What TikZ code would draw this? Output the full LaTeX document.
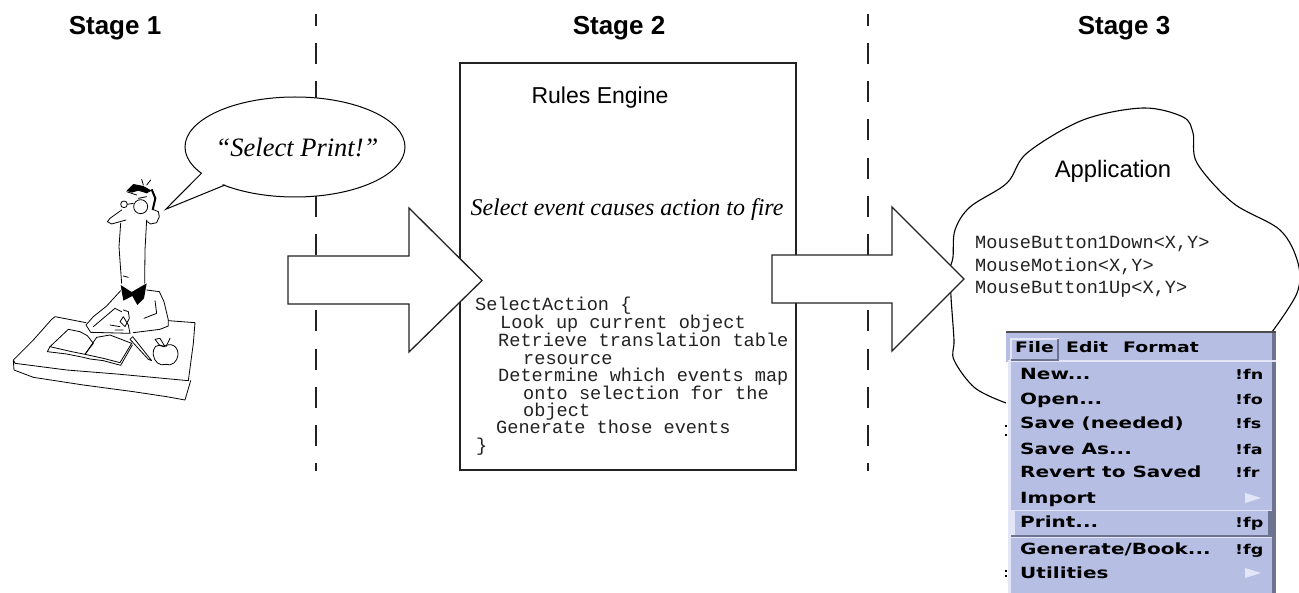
\documentclass[tikz,border=0pt]{standalone}
\usepackage{fontspec}
\usetikzlibrary{shapes.geometric}
\setmainfont{Liberation Sans}
\newfontfamily\serifit{Liberation Serif}
\newfontfamily\monof{Liberation Mono}
\newfontfamily\menuf[FakeStretch=1.3]{DejaVu Sans}
\definecolor{ink}{HTML}{222222}
\definecolor{menubg}{HTML}{B6BFE3}
\definecolor{menult}{HTML}{E2E6F7}
\definecolor{menudk}{HTML}{6E7391}
\tikzset{
 stagelabel/.style={font=\fontsize{26}{26}\selectfont\bfseries,text=black,inner sep=0,anchor=base},
 sanslabel/.style={font=\fontsize{23}{23}\selectfont,text=black,inner sep=0,anchor=base},
 seriflabel/.style={font=\serifit\itshape\fontsize{24}{24}\selectfont,text=black,inner sep=0,anchor=base},
 code/.style={font=\monof\fontsize{18.6}{18.6}\selectfont,text=ink,inner sep=0,anchor=base west},
 menuitem/.style={font=\menuf\bfseries\fontsize{15.4}{15.4}\selectfont,text=black,inner sep=0,anchor=base west},
 menubar/.style={font=\menuf\bfseries\fontsize{14.5}{14.5}\selectfont,text=black,inner sep=0,anchor=base west},
 menukey/.style={font=\menuf\bfseries\fontsize{13.5}{13.5}\selectfont,text=black,inner sep=0,anchor=base west},
 divider/.style={draw=ink,line width=1.5,dash pattern=on 21 off 17.2,dash phase=9.2},
 outlined/.style={draw=ink,line width=1.5},
 blockarrow/.style={draw=ink,line width=1.3,fill=white,line join=miter},
 sketch/.style={draw=black,line width=0.8,line join=round,line cap=round},
}
\newcommand{\menurow}[4]{%
  \node[menuitem] (it#1) at (1020,#4) {#2};
  \node[menukey] (sc#1) at (1235,#4) {#3};
}
\begin{document}
\begin{tikzpicture}[x=1pt,y=-1pt]
\useasboundingbox (0,0) rectangle (1299,593);
\node[stagelabel] (s1) at (115,35) {Stage 1};
\node[stagelabel] (s2) at (619,35) {Stage 2};
\node[stagelabel] (s3) at (1124,35) {Stage 3};
\coordinate (d1a) at (316,14); \coordinate (d1b) at (316,471);
\coordinate (d2a) at (868,14); \coordinate (d2b) at (868,471);
\draw[divider] (d1a) -- (d1b);
\draw[divider] (d2a) -- (d2b);
% bubble
\node[ellipse,draw=black,line width=1,fill=white,minimum width=220,minimum height=100,inner sep=0] (bubble) at (295,147) {};
\coordinate (t1) at (201.7,173); \coordinate (t2) at (165.7,209.3); \coordinate (t3) at (225,185);
\fill[white] (203,171) -- (t2) -- (226,183) -- cycle;
\draw[black,line width=1,line join=miter] (t1) -- (t2) -- (t3);
\node[seriflabel,font=\serifit\itshape\fontsize{26.5}{26.5}\selectfont] (say) at (297,156.5) {“Select Print!”};
% rules engine
\draw[outlined,fill=white] (460,63) rectangle (796,470);
\node[sanslabel] (re) at (600,104) {Rules Engine};
\node[seriflabel] (sel) at (627,216) {Select event causes action to fire};
\node[code] (c1) at (475,311) {SelectAction \{};
\node[code] (c2) at (500,329) {Look up current object};
\node[code] (c3) at (498,347) {Retrieve translation table};
\node[code] (c4) at (523,364.5) {resource};
\node[code] (c5) at (498,382) {Determine which events map};
\node[code] (c6) at (523,399.5) {onto selection for the};
\node[code] (c7) at (523,417) {object};
\node[code] (c8) at (496,434) {Generate those events};
\node[code] (c9) at (476,452) {\}};
% cloud
\draw[black,line width=1.1] plot[smooth,tension=0.55] coordinates {(1006,403) (975,388) (954,360) (954,340) (951,297) (950,270) (953,257) (955,230) (970,207) (1007,183) (1027,153) (1083,120) (1143,108) (1183,117) (1193,133) (1197,163) (1233,203) (1280,230) (1298,263) (1297,293) (1272,332)};
\node[sanslabel,font=\fontsize{23.8}{23.8}\selectfont] (app) at (1113,178) {Application};
\node[code] (m1) at (975,249) {MouseButton1Down<X,Y>};
\node[code] (m2) at (975,272) {MouseMotion<X,Y>};
\node[code] (m3) at (975,294) {MouseButton1Up<X,Y>};
% arrows
\draw[blockarrow] (288,256) -- (409,256) -- (409,208) -- (482,280.5) -- (409,352) -- (409,304) -- (288,304) -- cycle;
\draw[blockarrow] (772,255) -- (892,255) -- (892,207) -- (964,279) -- (892,351) -- (892,303) -- (772,303) -- cycle;
% menu
\fill[white] (1006,362) rectangle (1008,593);
\fill[menubg] (1006,332) rectangle (1276,362);
\fill[menubg] (1008,362) rectangle (1276,593);
\fill[menudk] (1272,333) rectangle (1276,593);
\fill[black!70] (1006,331) rectangle (1276,333);
\fill[menult] (1008,360.5) rectangle (1276,362.5);
\fill[menult] (1008,362) rectangle (1011,593);
\fill[menult] (1011,509.5) rectangle (1272,511);
\fill[menudk] (1011,535) rectangle (1272,537);
\fill[menult] (1011,537) rectangle (1272,538);
% File button
\fill[menult] (1010,338) rectangle (1059,340);
\fill[menult] (1010,338) rectangle (1012,360);
\fill[menudk] (1057,339) rectangle (1059,361);
\fill[menudk] (1011,359) rectangle (1059,361);
% Print highlight
\fill[menult] (1011,511) rectangle (1015,535);
\fill[menudk] (1268,511) rectangle (1272,535);
\node[menubar] (mfile) at (1015,353) {File};
\node[menubar] (medit) at (1066,353) {Edit};
\node[menubar] (mformat) at (1123,353) {Format};
\menurow{a}{New...}{!fn}{380}
\menurow{b}{Open...}{!fo}{404.5}
\menurow{c}{Save (needed)}{!fs}{429}
\menurow{d}{Save As...}{!fa}{454}
\menurow{e}{Revert to Saved}{!fr}{478}
\menurow{f}{Import}{}{503}
\menurow{g}{Print...}{!fp}{527}
\menurow{h}{Generate/Book...}{!fg}{554}
\menurow{i}{Utilities}{}{578}
\foreach \y in {498,573}{
  \fill[menult] (1245,\y-5) -- (1261,\y) -- (1245,\y+5) -- cycle;
}
\fill[black] (1005,425) rectangle (1007,427);
\fill[black] (1005,434) rectangle (1007,436);
\fill[black] (1005,570) rectangle (1007,572);
\fill[black] (1005,575) rectangle (1007,577);
% person
\begin{scope}[shift={(0,170)},x=0.33333pt,y=-0.33333pt]
 % desk
 \draw[sketch] (258,458) -- (165,440) -- (155,448) -- (100,510) -- (40,570) -- (45,580) -- (200,600) -- (350,612) -- (565,632) -- (580,520) -- (585,458) -- (505,452);
 \draw[sketch] (40,572) -- (42,600) -- (100,622) -- (250,645) -- (400,665) -- (500,680) -- (555,690) -- (572,632);
 % book
 \draw[sketch] (150,530) -- (205,478) -- (240,485) -- (262,497) -- (280,520) -- (255,553) -- (215,545) -- (150,530);
 \draw[sketch] (255,553) -- (290,502) -- (330,495) -- (395,520) -- (360,578) -- (310,565) -- (255,553);
 \draw[sketch] (150,530) -- (142,545) -- (200,552) -- (250,562) -- (270,567) -- (310,572) -- (362,586) -- (397,525);
 % pencil
 \draw[sketch] (398,500) -- (455,572) -- (445,568) -- (390,508) -- cycle;
 % apple
 \draw[sketch] (490,530) .. controls (515,515) and (535,530) .. (534,555) .. controls (532,575) and (515,590) .. (497,583) .. controls (480,590) and (462,575) .. (460,555) .. controls (458,530) and (470,520) .. (490,530);
 \draw[sketch] (498,530) -- (510,505);
 \draw[sketch] (465,508) -- (480,505) -- (495,530) -- (478,525) -- cycle;
 % body
 \draw[sketch] (362,362) -- (320,408) -- (280,440) -- (258,465) -- (272,487) -- (390,490);
 \draw[sketch] (440,360) -- (478,365) -- (492,395) -- (505,450) -- (505,468) -- (480,478) -- (400,488);
 \draw[sketch] (465,392) -- (470,430) -- (432,445);
 \draw[sketch] (280,470) -- (345,415) -- (365,425);
 \draw[sketch] (370,420) -- (385,425) -- (388,445) -- (375,470) -- (360,455) -- (370,440) -- (385,465) -- (390,490);
 \draw[sketch] (330,465) -- (360,470) (345,480) -- (370,480);
 % neck
 \draw[sketch] (362,160) -- (357,230) -- (362,300) -- (365,340);
 \draw[sketch] (440,150) -- (435,240) -- (434,340);
 \draw[sketch] (370,318) -- (385,322);
 % bow tie
 \fill[black] (362,345) -- (395,366) -- (440,340) -- (432,385) -- (412,405) -- (397,378) -- (370,392) -- cycle;
 % nose and face
 \draw[sketch] (365,120) -- (330,145) -- (322,155) -- (335,162) -- (378,150);
 \draw[sketch] (422,110) circle (21);
 \draw[sketch] (372,103) circle (10);
 \draw[sketch] (382,103) -- (400,100);
 % hair
 \fill[black] (380,62) -- (400,42) -- (430,48) -- (455,62) -- (440,70) -- (415,62) -- (395,68) -- cycle;
 \draw[black,line width=2] (455,58) -- (466,85) -- (458,120);
 \draw[sketch] (430,45) -- (425,28) (440,45) -- (452,30) (380,65) -- (410,75) (415,85) -- (440,80);
 % ear
 \draw[sketch] (458,118) -- (475,125) -- (478,140) -- (470,158) -- (452,162) -- (442,155);
\end{scope}
\end{tikzpicture}
\end{document}
